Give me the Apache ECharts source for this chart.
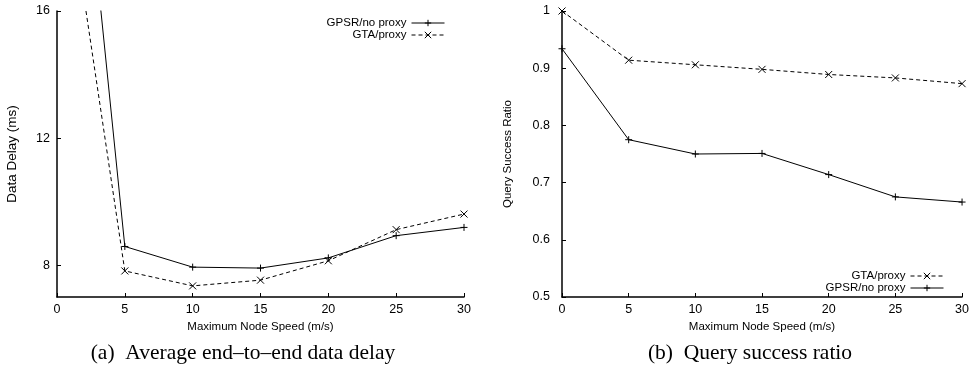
<!DOCTYPE html>
<html>
<head>
<meta charset="utf-8">
<script src="https://cdn.jsdelivr.net/npm/echarts@6/dist/echarts.min.js"></script>
<style>
  html, body { margin: 0; padding: 0; background: #fff; }
  #chart { width: 972px; height: 375px; }
</style>
</head>
<body>
<div id="chart"></div>
<script>
// x 轴：最大节点速度
var speeds = [0, 5, 10, 15, 20, 25, 30];

// (a) 数据延迟 (ms)，x=0 的点超出坐标范围被裁剪
var delayGpsr = [29.6, 8.59, 7.94, 7.91, 8.23, 8.93, 9.19];
var delayGta = [22.1, 7.82, 7.35, 7.53, 8.14, 9.12, 9.61];

// (b) 查询成功率
var ratioGta = [1.0, 0.914, 0.906, 0.898, 0.889, 0.883, 0.873];
var ratioGpsr = [0.934, 0.775, 0.750, 0.751, 0.714, 0.675, 0.666];

var delayTicks = [8, 12, 16];

var captions = ['(a)  Average end\u2013to\u2013end data delay', '(b)  Query success ratio'];

var PLUS = 'path://M0,5L10,5M5,0L5,10';
var CROSS = 'path://M0,0L10,10M10,0L0,10';

function pairs(xs, ys) {
    var res = [];
    for (var i = 0; i < xs.length; i++) {
        res.push([xs[i], ys[i]]);
    }
    return res;
}

var sans = 'Liberation Sans';
var axisLine = { lineStyle: { color: '#000', width: 1.5 } };

function xAxis(idx) {
    return {
        type: 'value', gridIndex: idx, min: 0, max: 30, interval: 5,
        name: 'Maximum Node Speed (m/s)', nameLocation: 'middle', nameGap: 24,
        nameTextStyle: { fontFamily: sans, fontSize: 11.5, color: '#000' },
        axisLine: axisLine,
        axisTick: { inside: true, length: 4, lineStyle: { color: '#000' } },
        axisLabel: { fontFamily: sans, fontSize: 12.5, color: '#000', margin: 6 },
        splitLine: { show: false }
    };
}

function line(name, idx, data, dashed, symbol) {
    return {
        name: name, type: 'line', xAxisIndex: idx, yAxisIndex: idx,
        data: data, symbol: symbol, symbolSize: 7,
        lineStyle: { color: '#000', width: 1, type: dashed ? [4, 3] : 'solid' },
        itemStyle: { color: '#000', borderColor: '#000', borderWidth: 1 },
        animation: false
    };
}

function legend(names, right, top) {
    return {
        data: names, orient: 'vertical', align: 'right',
        right: right, top: top, itemWidth: 33, itemHeight: 8, itemGap: 0,
        lineStyle: { width: 1 },
        itemStyle: { borderWidth: 1 },
        textStyle: { fontFamily: sans, fontSize: 11.5, lineHeight: 12, color: '#000' }
    };
}

var captionStyle = { fontFamily: 'Liberation Serif', fontWeight: 'normal', fontSize: 21.5, color: '#000' };

var chart = echarts.init(document.getElementById('chart'));

var option = {
    backgroundColor: '#fff',
    animation: false,
    grid: [
        { left: 57, top: 11, width: 407, height: 286 },
        { left: 562, top: 11, width: 401, height: 286 }
    ],
    title: [
        { text: captions[0], left: 238, top: 337, textAlign: 'center', textStyle: captionStyle },
        { text: captions[1], left: 745, top: 337, textAlign: 'center', textStyle: captionStyle }
    ],
    legend: [
        legend(['GPSR/no proxy', 'GTA/proxy'], 522, 12),
        legend(['GTA/proxy', 'GPSR/no proxy'], 23, 265)
    ],
    xAxis: [xAxis(0), xAxis(1)],
    yAxis: [
        {
            type: 'value', gridIndex: 0, min: 7, max: 16,
            name: 'Data Delay (ms)', nameLocation: 'middle', nameGap: 38,
            nameTextStyle: { fontFamily: sans, fontSize: 13.5, color: '#000' },
            axisLine: axisLine,
            axisTick: { inside: true, length: 4, customValues: delayTicks, lineStyle: { color: '#000' } },
            axisLabel: { customValues: delayTicks, fontFamily: sans, fontSize: 12.5, color: '#000', margin: 7 },
            splitLine: { show: false }
        },
        {
            type: 'value', gridIndex: 1, min: 0.5, max: 1, interval: 0.1,
            name: 'Query Success Ratio', nameLocation: 'middle', nameGap: 48,
            nameTextStyle: { fontFamily: sans, fontSize: 11.5, color: '#000' },
            axisLine: axisLine,
            axisTick: { inside: true, length: 4, lineStyle: { color: '#000' } },
            axisLabel: { fontFamily: sans, fontSize: 12.5, color: '#000', margin: 12 },
            splitLine: { show: false }
        }
    ],
    series: [
        line('GPSR/no proxy', 0, pairs(speeds, delayGpsr), false, PLUS),
        line('GTA/proxy', 0, pairs(speeds, delayGta), true, CROSS),
        line('GTA/proxy', 1, pairs(speeds, ratioGta), true, CROSS),
        line('GPSR/no proxy', 1, pairs(speeds, ratioGpsr), false, PLUS)
    ]
};

chart.setOption(option);
</script>
</body>
</html>
